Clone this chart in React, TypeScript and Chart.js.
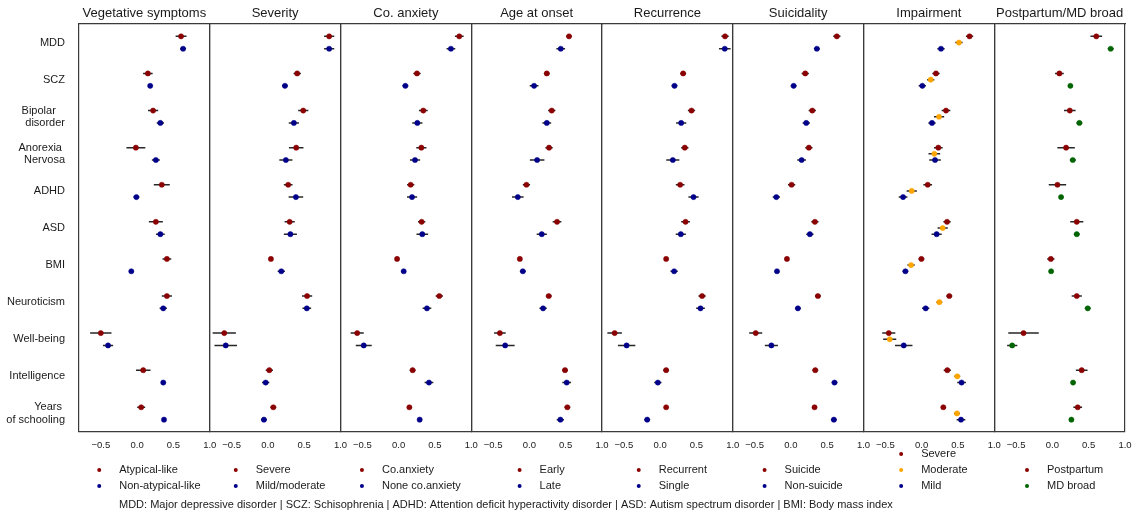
import React, { useEffect, useRef } from 'react';
import { Chart, registerables } from 'chart.js';

Chart.register(...registerables);

// ---------- data ----------
const traitLabels: (string | string[])[] = [
  'MDD',
  'SCZ',
  ['Bipolar   ', 'disorder'],
  ['Anorexia ', 'Nervosa'],
  'ADHD',
  'ASD',
  'BMI',
  'Neuroticism',
  'Well-being',
  'Intelligence',
  ['Years ', 'of schooling'],
];

const panelTitles = [
  'Vegetative symptoms',
  'Severity',
  'Co. anxiety',
  'Age at onset',
  'Recurrence',
  'Suicidality',
  'Impairment',
  'Postpartum/MD broad',
];

const xMin = -0.8;
const xMax = 1.0;
const xTickValues = [-0.5, 0.0, 0.5, 1.0];

// Vegetative symptoms
const vegAtypical = [0.605, 0.148, 0.22, -0.017, 0.34, 0.258, 0.41, 0.41, -0.5, 0.084, 0.056];
const vegAtypicalErr = [0.075, 0.066, 0.07, 0.13, 0.11, 0.096, 0.06, 0.07, 0.147, 0.1, 0.055];
const vegNonAtypical = [0.633, 0.18, 0.32, 0.258, -0.01, 0.32, -0.08, 0.36, -0.4, 0.36, 0.37];
const vegNonAtypicalErr = [0.04, 0.03, 0.05, 0.055, 0.04, 0.06, 0.02, 0.05, 0.07, 0.03, 0.025];

// Severity
const sevSevere = [0.844, 0.404, 0.487, 0.39, 0.28, 0.3, 0.042, 0.54, -0.6, 0.02, 0.075];
const sevSevereErr = [0.07, 0.05, 0.07, 0.1, 0.06, 0.07, 0.03, 0.07, 0.16, 0.05, 0.04];
const sevMild = [0.844, 0.235, 0.358, 0.248, 0.386, 0.31, 0.185, 0.536, -0.58, -0.03, -0.054];
const sevMildErr = [0.07, 0.04, 0.07, 0.09, 0.1, 0.09, 0.05, 0.06, 0.155, 0.05, 0.04];

// Co. anxiety
const anxCo = [0.835, 0.253, 0.34, 0.313, 0.166, 0.317, -0.021, 0.56, -0.57, 0.193, 0.148];
const anxCoErr = [0.06, 0.05, 0.06, 0.07, 0.05, 0.05, 0.03, 0.05, 0.09, 0.04, 0.03];
const anxNone = [0.72, 0.093, 0.258, 0.226, 0.185, 0.326, 0.07, 0.39, -0.48, 0.418, 0.29];
const anxNoneErr = [0.06, 0.04, 0.07, 0.07, 0.07, 0.08, 0.03, 0.06, 0.11, 0.06, 0.03];

// Age at onset
const onsetEarly = [0.546, 0.24, 0.308, 0.271, -0.04, 0.381, -0.131, 0.267, -0.406, 0.491, 0.523];
const onsetEarlyErr = [0.04, 0.04, 0.05, 0.05, 0.05, 0.06, 0.03, 0.04, 0.08, 0.04, 0.04];
const onsetLate = [0.432, 0.065, 0.24, 0.107, -0.159, 0.171, -0.09, 0.189, -0.333, 0.514, 0.427];
const onsetLateErr = [0.06, 0.06, 0.06, 0.1, 0.08, 0.07, 0.04, 0.05, 0.13, 0.06, 0.05];

// Recurrence
const recRecurrent = [0.894, 0.317, 0.432, 0.34, 0.276, 0.35, 0.083, 0.578, -0.626, 0.083, 0.083];
const recRecurrentErr = [0.05, 0.04, 0.05, 0.05, 0.06, 0.06, 0.03, 0.05, 0.1, 0.04, 0.03];
const recSingle = [0.89, 0.198, 0.29, 0.175, 0.46, 0.285, 0.193, 0.556, -0.461, -0.031, -0.178];
const recSingleErr = [0.08, 0.04, 0.07, 0.09, 0.07, 0.07, 0.05, 0.06, 0.12, 0.05, 0.04];

// Suicidality
const suiSuicide = [0.633, 0.198, 0.295, 0.248, 0.01, 0.331, -0.054, 0.372, -0.484, 0.336, 0.326];
const suiSuicideErr = [0.05, 0.05, 0.05, 0.05, 0.05, 0.05, 0.03, 0.04, 0.09, 0.04, 0.03];
const suiNon = [0.358, 0.038, 0.212, 0.148, -0.2, 0.262, -0.191, 0.097, -0.268, 0.601, 0.592];
const suiNonErr = [0.04, 0.04, 0.05, 0.06, 0.05, 0.05, 0.03, 0.04, 0.09, 0.04, 0.04];

// Impairment
const impSevere = [0.66, 0.198, 0.336, 0.23, 0.084, 0.35, -0.003, 0.381, -0.452, 0.354, 0.299];
const impSevereErr = [0.05, 0.05, 0.06, 0.06, 0.06, 0.05, 0.04, 0.04, 0.09, 0.05, 0.03];
const impModerate = [0.514, 0.125, 0.24, 0.175, -0.136, 0.29, -0.145, 0.244, -0.439, 0.491, 0.487];
const impModerateErr = [0.05, 0.05, 0.07, 0.08, 0.07, 0.07, 0.05, 0.04, 0.09, 0.04, 0.04];
const impMild = [0.267, 0.01, 0.143, 0.185, -0.255, 0.207, -0.223, 0.056, -0.246, 0.55, 0.542];
const impMildErr = [0.05, 0.05, 0.05, 0.08, 0.06, 0.07, 0.04, 0.05, 0.12, 0.06, 0.06];

// Postpartum / MD broad
const ppPostpartum = [0.605, 0.097, 0.24, 0.189, 0.07, 0.336, -0.021, 0.336, -0.397, 0.404, 0.349];
const ppPostpartumErr = [0.08, 0.06, 0.08, 0.12, 0.12, 0.09, 0.05, 0.07, 0.21, 0.08, 0.06];
const ppBroad = [0.803, 0.248, 0.372, 0.281, 0.12, 0.336, -0.017, 0.487, -0.553, 0.285, 0.262];
const ppBroadErr = [0.04, 0.03, 0.04, 0.04, 0.03, 0.04, 0.02, 0.04, 0.07, 0.03, 0.03];

const footerText =
  'MDD: Major depressive disorder | SCZ: Schisophrenia | ADHD: Attention deficit hyperactivity disorder | ASD: Autism spectrum disorder | BMI: Body mass index';

// ---------- styles ----------
const RED = '#8b0000';
const BLUE = '#00008b';
const ORANGE = '#ffa500';
const GREEN = '#006400';
const TEXT = '#1a1a1a';
const EDGE = '#3a3a3a';
const BAR = 'rgba(15,15,15,0.9)';
const FONT = "'Liberation Sans', Arial, Helvetica, sans-serif";

type Series = { label: string; color: string; values: number[]; errs: number[] };

const panels: { title: string; series: Series[] }[] = [
  { title: panelTitles[0], series: [
    { label: 'Atypical-like', color: RED, values: vegAtypical, errs: vegAtypicalErr },
    { label: 'Non-atypical-like', color: BLUE, values: vegNonAtypical, errs: vegNonAtypicalErr },
  ] },
  { title: panelTitles[1], series: [
    { label: 'Severe', color: RED, values: sevSevere, errs: sevSevereErr },
    { label: 'Mild/moderate', color: BLUE, values: sevMild, errs: sevMildErr },
  ] },
  { title: panelTitles[2], series: [
    { label: 'Co.anxiety', color: RED, values: anxCo, errs: anxCoErr },
    { label: 'None co.anxiety', color: BLUE, values: anxNone, errs: anxNoneErr },
  ] },
  { title: panelTitles[3], series: [
    { label: 'Early', color: RED, values: onsetEarly, errs: onsetEarlyErr },
    { label: 'Late', color: BLUE, values: onsetLate, errs: onsetLateErr },
  ] },
  { title: panelTitles[4], series: [
    { label: 'Recurrent', color: RED, values: recRecurrent, errs: recRecurrentErr },
    { label: 'Single', color: BLUE, values: recSingle, errs: recSingleErr },
  ] },
  { title: panelTitles[5], series: [
    { label: 'Suicide', color: RED, values: suiSuicide, errs: suiSuicideErr },
    { label: 'Non-suicide', color: BLUE, values: suiNon, errs: suiNonErr },
  ] },
  { title: panelTitles[6], series: [
    { label: 'Severe', color: RED, values: impSevere, errs: impSevereErr },
    { label: 'Moderate', color: ORANGE, values: impModerate, errs: impModerateErr },
    { label: 'Mild', color: BLUE, values: impMild, errs: impMildErr },
  ] },
  { title: panelTitles[7], series: [
    { label: 'Postpartum', color: RED, values: ppPostpartum, errs: ppPostpartumErr },
    { label: 'MD broad', color: GREEN, values: ppBroad, errs: ppBroadErr },
  ] },
];

const GROUP = 3; // y units per trait row

function fmtTick(v: number) {
  const s = Math.abs(v).toFixed(1);
  return v < -1e-9 ? '\u2212' + s : s;
}

const legendPlugin = {
  id: 'panelLegends',
  afterDraw(chart: any) {
    const ctx = chart.ctx;
    const area = chart.chartArea;
    ctx.save();
    ctx.font = `11px ${FONT}`;
    ctx.textBaseline = 'middle';
    ctx.textAlign = 'left';
    panels.forEach((p, j) => {
      const sc = chart.scales['x' + j];
      const cx = (sc.left + sc.right) / 2;
      const maxW = Math.max(...p.series.map((s) => ctx.measureText(s.label).width));
      const left = cx - (31 + maxW) / 2;
      const n = p.series.length;
      p.series.forEach((s, k) => {
        const y = area.bottom + 54 - (n - 1 - k) * 16;
        ctx.fillStyle = s.color;
        ctx.beginPath();
        ctx.arc(left + 11, y, 2, 0, Math.PI * 2);
        ctx.fill();
        ctx.fillStyle = TEXT;
        ctx.fillText(s.label, left + 31, y);
      });
    });
    ctx.fillStyle = TEXT;
    ctx.fillText(footerText, area.left + 40, area.bottom + 73);
    ctx.restore();
  },
};

export default function App() {
  const canvasRef = useRef<HTMLCanvasElement | null>(null);

  useEffect(() => {
    if (!canvasRef.current) return;
    Chart.defaults.font.family = FONT;
    Chart.defaults.color = TEXT;

    const datasets: any[] = [];
    panels.forEach((p, j) => {
      const n = p.series.length;
      p.series.forEach((s, k) => {
        const off = n === 3 ? 1 + k * 0.5 : 1 + k;
        const bars: any[] = [];
        s.values.forEach((v, i) => {
          const y = GROUP * i + off;
          bars.push({ x: v - s.errs[i], y }, { x: v + s.errs[i], y }, { x: null, y: null });
        });
        datasets.push({
          type: 'line',
          label: s.label + ' CI',
          xAxisID: 'x' + j,
          yAxisID: 'y',
          data: bars,
          borderColor: BAR,
          borderWidth: 1.5,
          pointRadius: 0,
          pointHoverRadius: 0,
          spanGaps: false,
          fill: false,
          tension: 0,
          order: 1,
        });
        datasets.push({
          type: 'scatter',
          label: s.label,
          xAxisID: 'x' + j,
          yAxisID: 'y',
          data: s.values.map((v, i) => ({ x: v, y: GROUP * i + off })),
          backgroundColor: s.color,
          borderColor: s.color,
          borderWidth: 0.5,
          pointRadius: 2.6,
          pointHoverRadius: 2.6,
          order: 0,
        });
      });
    });

    const scales: any = {
      y: {
        type: 'linear',
        position: 'left',
        min: 0,
        max: GROUP * traitLabels.length,
        reverse: true,
        grid: { display: false },
        border: { display: false },
        afterBuildTicks: (scale: any) => {
          scale.ticks = traitLabels.map((_, i) => ({ value: GROUP * i + GROUP / 2 }));
        },
        afterFit: (scale: any) => {
          scale.width = 79;
          scale.paddingTop = 0;
          scale.paddingBottom = 0;
        },
        ticks: {
          autoSkip: false,
          padding: 6,
          color: TEXT,
          font: { size: 11, lineHeight: 1.1 },
          callback: (value: number) => traitLabels[Math.round((value - GROUP / 2) / GROUP)],
        },
      },
    };

    // bottom axes: one per panel, placed left to right
    panels.forEach((p, j) => {
      scales['x' + j] = {
        type: 'linear',
        position: 'bottom',
        stack: 'panelsBottom',
        stackWeight: 1,
        min: xMin,
        max: xMax,
        afterBuildTicks: (scale: any) => {
          scale.ticks = [xMin, ...xTickValues].map((v) => ({ value: v }));
        },
        afterFit: (scale: any) => {
          scale.height = 20;
          scale.paddingLeft = 0;
          scale.paddingRight = 0;
        },
        grid: {
          display: true,
          drawOnChartArea: true,
          drawTicks: false,
          lineWidth: 1.2,
          color: (c: any) =>
            c.tick && (Math.abs(c.tick.value - xMin) < 1e-9 || Math.abs(c.tick.value - xMax) < 1e-9)
              ? EDGE
              : 'rgba(0,0,0,0)',
        },
        border: { display: true, color: EDGE, width: 1.2 },
        ticks: {
          autoSkip: false,
          maxRotation: 0,
          minRotation: 0,
          padding: 8,
          color: TEXT,
          font: { size: 9.5 },
          callback: (value: number) => (Math.abs(value - xMin) < 1e-9 ? '' : fmtTick(value)),
        },
      };
    });

    // top axes carry the panel titles; Chart.js stacks top boxes in reverse order
    for (let j = panels.length - 1; j >= 0; j--) {
      scales['t' + j] = {
        type: 'linear',
        position: 'top',
        stack: 'panelsTop',
        stackWeight: 1,
        display: true,
        min: xMin,
        max: xMax,
        grid: { display: false, drawTicks: false },
        border: { display: true, color: EDGE, width: 1.2 },
        ticks: { display: false },
        afterFit: (scale: any) => {
          scale.height = 24;
          scale.paddingLeft = 0;
          scale.paddingRight = 0;
        },
        title: {
          display: true,
          text: panels[j].title,
          color: TEXT,
          font: { size: 13 },
          padding: { top: 6, bottom: 0 },
        },
      };
    }

    const chart = new Chart(canvasRef.current, {
      type: 'scatter',
      data: { datasets },
      options: {
        animation: false,
        responsive: true,
        maintainAspectRatio: false,
        layout: { padding: { left: 0, right: 8, top: 0, bottom: 63 } },
        plugins: {
          legend: { display: false },
          tooltip: { enabled: false },
        },
        scales,
      },
      plugins: [legendPlugin],
    });

    return () => {
      chart.destroy();
    };
  }, []);

  return (
    <div
      style={{
        position: 'fixed',
        left: 0,
        top: 0,
        width: 1133,
        height: 515,
        background: '#ffffff',
      }}
    >
      <canvas ref={canvasRef} />
    </div>
  );
}
